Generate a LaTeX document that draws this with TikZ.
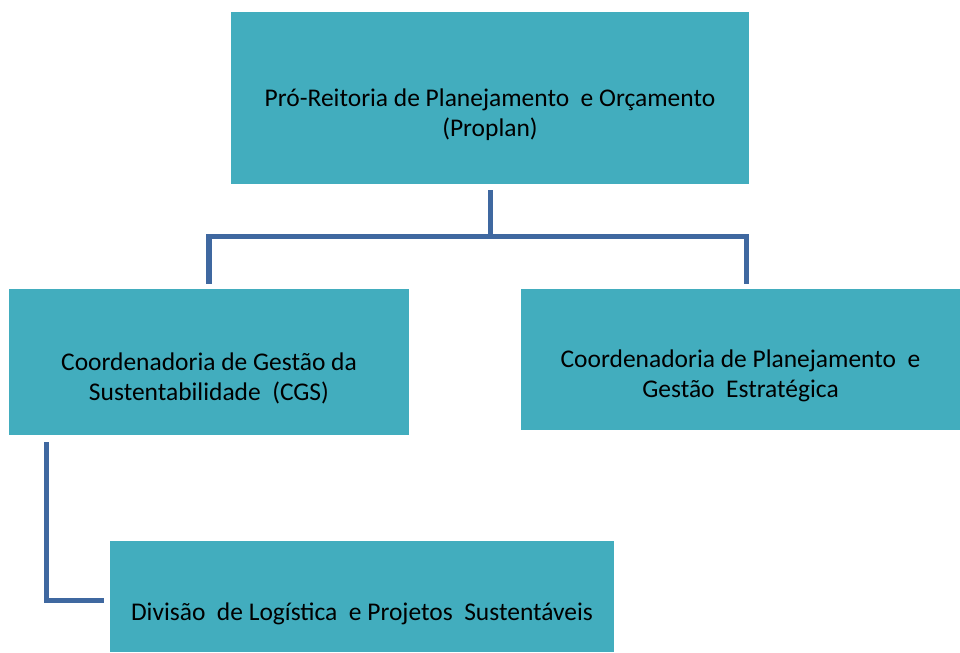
\documentclass[tikz,border=0pt]{standalone}
\usepackage{fontspec}
\setmainfont{Carlito}
\usetikzlibrary{positioning}
\definecolor{boxteal}{HTML}{42ADBE}
\definecolor{linkblue}{HTML}{3F68A0}

\begin{document}
\begin{tikzpicture}[
    align=center,
    box/.style={fill=boxteal, inner sep=0pt, text height=30pt, font=\fontsize{14.5}{17}\selectfont},
    twoline/.style={box, text height=46pt},
    link/.style={draw=linkblue, line width=2.85pt}
]
\useasboundingbox (0,0) rectangle (19.2,-13.04);

% Nodes
\node (proplan) [twoline, minimum width=10.36cm, minimum height=3.44cm] at (9.8,-1.96) {Pró-Reitoria de Planejamento\ \ e Orçamento\\(Proplan)};
\node (cgs) [twoline, minimum width=8cm, minimum height=2.92cm] at (4.18,-7.24) {Coordenadoria de Gestão da\\Sustentabilidade\ \ (CGS)};
\node (cpge) [twoline, minimum width=8.78cm, minimum height=2.82cm] at (14.81,-7.19) {Coordenadoria de Planejamento\ \ e\\Gestão\ \ Estratégica};
\node (dlps) [box, minimum width=10.08cm, minimum height=2.22cm] at (7.24,-11.93) {Divisão\ \ de Logística\ \ e Projetos\ \ Sustentáveis};
\coordinate [below=1.04cm of proplan.south] (fork);

% Edges
\draw [link, shorten <=0.12cm] (proplan.south) -- (fork);
\draw [link, shorten >=0.1cm] (fork) -| (cgs.north);
\draw [link, shorten >=0.1cm] (fork) -| ([xshift=0.11cm]cpge.north);
\draw [link, shorten <=0.14cm, shorten >=0.12cm] ([xshift=0.76cm]cgs.south west) |- ([yshift=-0.07cm]dlps.west);

\end{tikzpicture}
\end{document}
